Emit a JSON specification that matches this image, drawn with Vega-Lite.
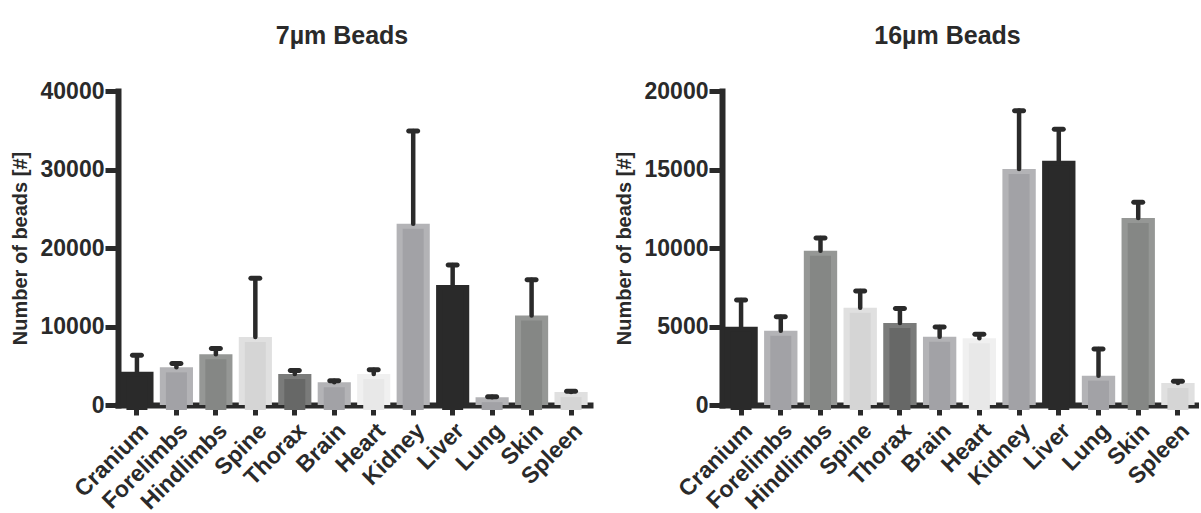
{
  "$schema": "https://vega.github.io/schema/vega-lite/v6.json",
  "background": "white",
  "padding": {"left": 10, "top": 24, "right": 2, "bottom": 0},
  "spacing": 24,
  "datasets": {
    "beads7": [
      {"organ": "Cranium", "mean": 4250, "upper": 6350},
      {"organ": "Forelimbs", "mean": 4800, "upper": 5300},
      {"organ": "Hindlimbs", "mean": 6450, "upper": 7200},
      {"organ": "Spine", "mean": 8650, "upper": 16150},
      {"organ": "Thorax", "mean": 3950, "upper": 4400},
      {"organ": "Brain", "mean": 2900, "upper": 3100},
      {"organ": "Heart", "mean": 3950, "upper": 4500},
      {"organ": "Kidney", "mean": 23100, "upper": 34900},
      {"organ": "Liver", "mean": 15300, "upper": 17850},
      {"organ": "Lung", "mean": 1000, "upper": 1050},
      {"organ": "Skin", "mean": 11400, "upper": 15950},
      {"organ": "Spleen", "mean": 1650, "upper": 1750}
    ],
    "beads16": [
      {"organ": "Cranium", "mean": 4990, "upper": 6690},
      {"organ": "Forelimbs", "mean": 4730, "upper": 5620},
      {"organ": "Hindlimbs", "mean": 9830, "upper": 10640},
      {"organ": "Spine", "mean": 6200, "upper": 7260},
      {"organ": "Thorax", "mean": 5220, "upper": 6150},
      {"organ": "Brain", "mean": 4350, "upper": 4970},
      {"organ": "Heart", "mean": 4250, "upper": 4500},
      {"organ": "Kidney", "mean": 15030, "upper": 18750},
      {"organ": "Liver", "mean": 15560, "upper": 17560},
      {"organ": "Lung", "mean": 1870, "upper": 3570},
      {"organ": "Skin", "mean": 11910, "upper": 12910},
      {"organ": "Spleen", "mean": 1400, "upper": 1510}
    ]
  },
  "config": {
    "font": "Liberation Sans",
    "view": {"stroke": null},
    "title": {"font": "Liberation Sans", "fontSize": 25, "fontWeight": "bold", "color": "#2a2a2a", "offset": 31, "dx": -12},
    "axis": {
      "domainColor": "#2a2a2a",
      "domainWidth": 6,
      "domainCap": "square",
      "tickColor": "#2a2a2a",
      "tickWidth": 5,
      "labelFont": "Liberation Sans",
      "labelFontWeight": "bold",
      "labelColor": "#2a2a2a",
      "titleFont": "Liberation Sans",
      "titleFontWeight": "bold",
      "titleColor": "#2a2a2a",
      "grid": false
    },
    "axisX": {"labelAngle": -45, "labelFontSize": 23, "tickSize": 10, "labelPadding": 4, "title": null},
    "axisY": {"labelFontSize": 23, "tickSize": 13, "labelPadding": 1, "titleFontSize": 20, "titlePadding": 10, "format": "d"}
  },
  "hconcat": [
    {
      "title": "7µm Beads",
      "width": 472,
      "height": 314,
      "data": {"name": "beads7"},
      "encoding": {
        "x": {"field": "organ", "type": "nominal", "sort": null, "scale": {"paddingInner": 0.16, "paddingOuter": 0.06}}
      },
      "layer": [
        {
          "mark": {"type": "bar"},
          "encoding": {
            "y": {"field": "mean", "type": "quantitative", "title": "Number of beads [#]", "scale": {"domain": [0, 40000]}, "axis": {"values": [0, 10000, 20000, 30000, 40000]}},
            "color": {"field": "organ", "type": "nominal", "legend": null, "scale": {
              "domain": ["Cranium", "Forelimbs", "Hindlimbs", "Spine", "Thorax", "Brain", "Heart", "Kidney", "Liver", "Lung", "Skin", "Spleen"],
              "range": ["#2a2a2a", "#b3b3b6", "#959795", "#e0e0e0", "#7a7b7a", "#b3b3b6", "#f0f0f0", "#b3b3b6", "#2a2a2a", "#b3b3b6", "#959795", "#e0e0e0"]}}
          }
        },
        {
          "mark": {"type": "bar", "size": 21, "yOffset": 5, "y2Offset": 0},
          "encoding": {
            "y": {"field": "mean", "type": "quantitative"},
            "color": {"field": "organ", "type": "nominal", "legend": null, "scale": {
              "domain": ["Cranium", "Forelimbs", "Hindlimbs", "Spine", "Thorax", "Brain", "Heart", "Kidney", "Liver", "Lung", "Skin", "Spleen"],
              "range": ["#2a2a2a", "#a2a2a6", "#858785", "#d5d5d5", "#676867", "#a2a2a6", "#e8e8e8", "#a2a2a6", "#2a2a2a", "#a2a2a6", "#858785", "#d5d5d5"]}}
          }
        },
        {
          "mark": {"type": "rule", "color": "#2a2a2a", "strokeWidth": 4.5, "strokeCap": "round"},
          "encoding": {
            "y": {"field": "mean", "type": "quantitative"},
            "y2": {"field": "upper"}
          }
        },
        {
          "mark": {"type": "tick", "color": "#2a2a2a", "size": 14, "thickness": 5, "cornerRadius": 2.5, "opacity": 1},
          "encoding": {
            "y": {"field": "upper", "type": "quantitative"}
          }
        }
      ],
      "resolve": {"scale": {"color": "independent"}}
    },
    {
      "title": "16µm Beads",
      "width": 475,
      "height": 314,
      "data": {"name": "beads16"},
      "encoding": {
        "x": {"field": "organ", "type": "nominal", "sort": null, "scale": {"paddingInner": 0.16, "paddingOuter": 0.06}}
      },
      "layer": [
        {
          "mark": {"type": "bar"},
          "encoding": {
            "y": {"field": "mean", "type": "quantitative", "title": "Number of beads [#]", "scale": {"domain": [0, 20000]}, "axis": {"values": [0, 5000, 10000, 15000, 20000]}},
            "color": {"field": "organ", "type": "nominal", "legend": null, "scale": {
              "domain": ["Cranium", "Forelimbs", "Hindlimbs", "Spine", "Thorax", "Brain", "Heart", "Kidney", "Liver", "Lung", "Skin", "Spleen"],
              "range": ["#2a2a2a", "#b3b3b6", "#959795", "#e0e0e0", "#7a7b7a", "#b3b3b6", "#f0f0f0", "#b3b3b6", "#2a2a2a", "#b3b3b6", "#959795", "#e0e0e0"]}}
          }
        },
        {
          "mark": {"type": "bar", "size": 21, "yOffset": 5, "y2Offset": 0},
          "encoding": {
            "y": {"field": "mean", "type": "quantitative"},
            "color": {"field": "organ", "type": "nominal", "legend": null, "scale": {
              "domain": ["Cranium", "Forelimbs", "Hindlimbs", "Spine", "Thorax", "Brain", "Heart", "Kidney", "Liver", "Lung", "Skin", "Spleen"],
              "range": ["#2a2a2a", "#a2a2a6", "#858785", "#d5d5d5", "#676867", "#a2a2a6", "#e8e8e8", "#a2a2a6", "#2a2a2a", "#a2a2a6", "#858785", "#d5d5d5"]}}
          }
        },
        {
          "mark": {"type": "rule", "color": "#2a2a2a", "strokeWidth": 4.5, "strokeCap": "round"},
          "encoding": {
            "y": {"field": "mean", "type": "quantitative"},
            "y2": {"field": "upper"}
          }
        },
        {
          "mark": {"type": "tick", "color": "#2a2a2a", "size": 14, "thickness": 5, "cornerRadius": 2.5, "opacity": 1},
          "encoding": {
            "y": {"field": "upper", "type": "quantitative"}
          }
        }
      ],
      "resolve": {"scale": {"color": "independent"}}
    }
  ]
}
